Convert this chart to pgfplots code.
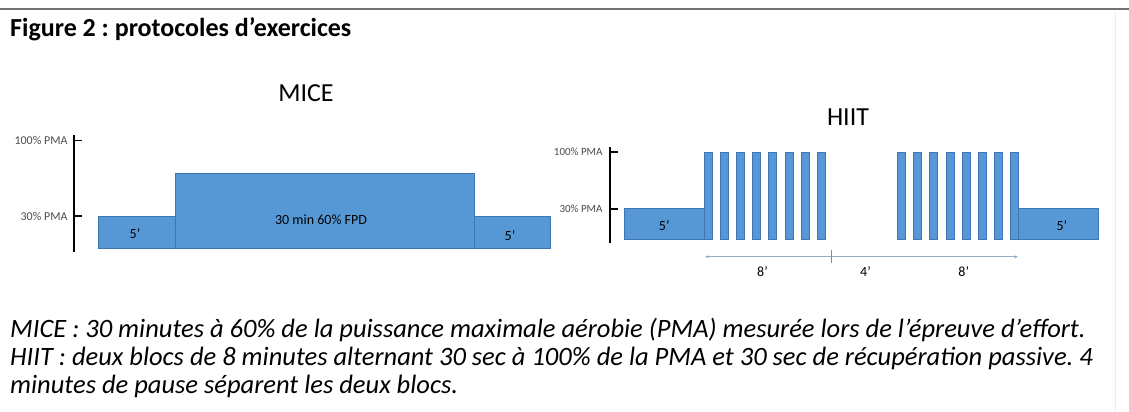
\documentclass[border=0pt]{standalone}
\usepackage{fontspec}
\setmainfont{Carlito}
\usepackage{pgfplots}
\pgfplotsset{compat=1.18}
\usetikzlibrary{arrows.meta}
\definecolor{barfill}{RGB}{86,152,214}
\definecolor{baredge}{RGB}{62,118,180}
\definecolor{arrowcol}{RGB}{150,175,200}
\frenchspacing
\begin{document}
\begin{tikzpicture}[x=1pt,y=1pt]
\useasboundingbox (0,0) rectangle (1129,412);
\fill[white] (0,0) rectangle (1129,412);
\draw[black!55, line width=2pt] (0,403) -- (1129,403);
\draw[black!8, line width=1pt] (1115,400) -- (1115,0);
\node[anchor=base west, inner sep=0, font=\fontsize{26}{30}\selectfont\bfseries] at (10,375) {Figure 2 : protocoles d’exercices};
\node[font=\fontsize{26}{30}\selectfont] at (306,319) {MICE};
\node[font=\fontsize{26}{30}\selectfont] at (848,295) {HIIT};

\begin{axis}[at={(74pt,160pt)}, anchor=south west, scale only axis,
  width=480pt, height=117pt, xmin=0, xmax=480, ymin=-3, ymax=105,
  axis x line=none, axis y line=left,
  axis line style={-, line width=1.6pt, black},
  xtick=\empty, ytick={30,100}, yticklabels={30\% PMA,100\% PMA},
  tick align=inside, major tick length=8pt,
  tick style={line width=1.6pt, black},
  yticklabel style={font=\fontsize{12}{13}\selectfont, text=black!70, xshift=-3pt},
  clip=false]
\addplot[fill=barfill, draw=baredge, line width=1pt] coordinates {(24,0) (24,30) (101,30) (101,0)} --cycle;
\addplot[fill=barfill, draw=baredge, line width=1pt] coordinates {(101,0) (101,69) (400,69) (400,0)} --cycle;
\addplot[fill=barfill, draw=baredge, line width=1pt] coordinates {(400,0) (400,30) (476,30) (476,0)} --cycle;
\node[font=\fontsize{14}{15}\selectfont] at (axis cs:61,14) {5’};
\node[font=\fontsize{14}{15}\selectfont] at (axis cs:247,27) {30 min 60\% FPD};
\node[font=\fontsize{14}{15}\selectfont] at (axis cs:436,12) {5’};
\end{axis}

\begin{axis}[at={(610pt,169pt)}, anchor=south west, scale only axis,
  width=505.06pt, height=96pt, xmin=-0.87, xmax=30.5, ymin=-12, ymax=106,
  axis x line=none, axis y line=left,
  axis line style={-, line width=1.6pt, black},
  xtick=\empty, ytick={30,100}, yticklabels={30\% PMA,100\% PMA},
  tick align=inside, major tick length=8pt,
  tick style={line width=1.6pt, black},
  yticklabel style={font=\fontsize{11}{12}\selectfont, text=black!70, xshift=-4pt},
  clip=false]
% warm-up 5'
\addplot[fill=barfill, draw=baredge, line width=1pt] coordinates {(0,-8) (0,30) (5,30) (5,-8)} --cycle;
% first block: 8 x 30 s at 100% PMA
\addplot[fill=barfill, draw=baredge, line width=1pt] coordinates {(5,-8) (5,99) (5.5,99) (5.5,-8)} --cycle;
\addplot[fill=barfill, draw=baredge, line width=1pt] coordinates {(6,-8) (6,99) (6.5,99) (6.5,-8)} --cycle;
\addplot[fill=barfill, draw=baredge, line width=1pt] coordinates {(7,-8) (7,99) (7.5,99) (7.5,-8)} --cycle;
\addplot[fill=barfill, draw=baredge, line width=1pt] coordinates {(8,-8) (8,99) (8.5,99) (8.5,-8)} --cycle;
\addplot[fill=barfill, draw=baredge, line width=1pt] coordinates {(9,-8) (9,99) (9.5,99) (9.5,-8)} --cycle;
\addplot[fill=barfill, draw=baredge, line width=1pt] coordinates {(10,-8) (10,99) (10.5,99) (10.5,-8)} --cycle;
\addplot[fill=barfill, draw=baredge, line width=1pt] coordinates {(11,-8) (11,99) (11.5,99) (11.5,-8)} --cycle;
\addplot[fill=barfill, draw=baredge, line width=1pt] coordinates {(12,-8) (12,99) (12.5,99) (12.5,-8)} --cycle;
% second block
\addplot[fill=barfill, draw=baredge, line width=1pt] coordinates {(17,-8) (17,99) (17.5,99) (17.5,-8)} --cycle;
\addplot[fill=barfill, draw=baredge, line width=1pt] coordinates {(18,-8) (18,99) (18.5,99) (18.5,-8)} --cycle;
\addplot[fill=barfill, draw=baredge, line width=1pt] coordinates {(19,-8) (19,99) (19.5,99) (19.5,-8)} --cycle;
\addplot[fill=barfill, draw=baredge, line width=1pt] coordinates {(20,-8) (20,99) (20.5,99) (20.5,-8)} --cycle;
\addplot[fill=barfill, draw=baredge, line width=1pt] coordinates {(21,-8) (21,99) (21.5,99) (21.5,-8)} --cycle;
\addplot[fill=barfill, draw=baredge, line width=1pt] coordinates {(22,-8) (22,99) (22.5,99) (22.5,-8)} --cycle;
\addplot[fill=barfill, draw=baredge, line width=1pt] coordinates {(23,-8) (23,99) (23.5,99) (23.5,-8)} --cycle;
\addplot[fill=barfill, draw=baredge, line width=1pt] coordinates {(24,-8) (24,99) (24.5,99) (24.5,-8)} --cycle;
% cool-down 5'
\addplot[fill=barfill, draw=baredge, line width=1pt] coordinates {(24.5,-8) (24.5,30) (29.5,30) (29.5,-8)} --cycle;
\node[font=\fontsize{14}{15}\selectfont] at (axis cs:2.5,9) {5’};
\node[font=\fontsize{14}{15}\selectfont] at (axis cs:27.2,9) {5’};
\draw[arrowcol, line width=0.7pt, {Latex[length=4pt,width=3pt]}-{Latex[length=4pt,width=3pt]}] (axis cs:5,-29) -- (axis cs:24.5,-29);
\draw[arrowcol!80!black, line width=0.5pt] (axis cs:12.9,-21) -- (axis cs:12.9,-36);
\node[font=\fontsize{14}{15}\selectfont] at (axis cs:8.6,-47) {8’};
\node[font=\fontsize{14}{15}\selectfont] at (axis cs:15.0,-47) {4’};
\node[font=\fontsize{14}{15}\selectfont] at (axis cs:21.1,-47) {8’};
\end{axis}

\begin{scope}[font=\fontsize{26.5}{28}\selectfont\itshape]
\node[anchor=base west, inner sep=0] at (10,74) {MICE : 30 minutes à 60\% de la puissance maximale aérobie (PMA) mesurée lors de l’épreuve d’effort.};
\node[anchor=base west, inner sep=0] at (10,46) {HIIT : deux blocs de 8 minutes alternant 30 sec à 100\% de la PMA et 30 sec de récupération passive. 4};
\node[anchor=base west, inner sep=0] at (10,18) {minutes de pause séparent les deux blocs.};
\end{scope}
\end{tikzpicture}
\end{document}
